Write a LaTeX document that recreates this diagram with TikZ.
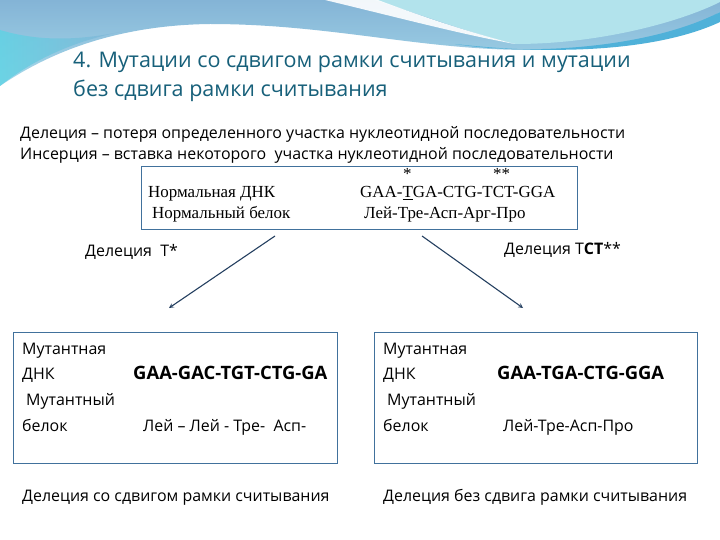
\documentclass[tikz,border=0pt]{standalone}
\usepackage{fontspec}
\setmainfont{Open Sans}
\newfontfamily\dnaserif{Liberation Serif}
\usepackage{tikz}
\usetikzlibrary{calc}

\definecolor{titleteal}{HTML}{17607A}
\definecolor{boxline}{HTML}{41719C}
\definecolor{arrowblue}{HTML}{243F60}
\definecolor{wavetop}{HTML}{84B4D6}
\definecolor{wavelow}{HTML}{A6D9EA}
\definecolor{waveturq}{HTML}{5ED3E4}
\definecolor{wavepale}{HTML}{B2E3EC}
\definecolor{wavedeep}{HTML}{4FB1D9}

\begin{document}
\begin{tikzpicture}[x=1bp,y=-1bp,>=stealth,
			txt/.style={anchor=base west,inner sep=0pt,font=\fontsize{16}{19}\selectfont},
			seq/.style={anchor=base west,inner sep=0pt,font=\fontsize{18.5}{21}\selectfont\bfseries},
			serif/.style={anchor=base west,inner sep=0pt,font=\dnaserif\fontsize{17}{20}\selectfont},
			title/.style={anchor=base west,inner sep=0pt,text=titleteal,font=\fontsize{21.6}{26}\selectfont},
			databox/.style={draw=boxline,line width=0.9pt,fill=white,inner sep=0pt},
			link/.style={->,draw=arrowblue,line width=1.1pt},
			]
			\useasboundingbox (0,0) rectangle (720,540);
			\fill[white] (0,0) rectangle (720,540);
			
			% волна сверху
			\shade[top color=wavetop,bottom color=wavelow]
			(0,0) -- (720,0) -- (720,12)
			.. controls (690,30) and (620,50) .. (530,50)
			.. controls (420,50) and (330,24) .. (210,24)
			.. controls (130,25) and (60,45) .. (0,86) -- cycle;
			\shade[left color=waveturq,right color=wavetop,opacity=0.8]
			(0,30) .. controls (40,42) and (80,40) .. (120,32)
			.. controls (70,42) and (30,62) .. (0,86) -- cycle;
			\fill[wavepale] (375,0) .. controls (430,18) and (480,36) .. (515,44)
			.. controls (600,44) and (680,22) .. (720,2) -- (720,0) -- cycle;
			\fill[white,opacity=0.9] (325,0) .. controls (400,18) and (460,34) .. (515,44)
			.. controls (460,30) and (410,12) .. (378,0) -- cycle;
			\fill[wavedeep] (455,44) .. controls (530,56) and (650,48) .. (720,12)
			-- (720,22) .. controls (660,50) and (560,56) .. (455,44) -- cycle;
			
			% заголовок
			\node[title] (title1) at (73,68) {4. Мутации со сдвигом рамки считывания и мутации};
			\node[title] (title2) at (73,97) {без сдвига рамки считывания};
			
			% определения
			\node[txt] (deldef) at (20,139) {Делеция – потеря определенного участка нуклеотидной последовательности};
			\node[txt] (insdef) at (20,160) {Инсерция – вставка некоторого\ \ участка нуклеотидной последовательности};
			
			% нормальная ДНК
			\node[databox,minimum width=437,minimum height=64] (normbox) at (359.5,198) {};
			\node[serif] (star1) at (403,180) {*};
			\node[serif] (star2) at (493,180) {**};
			\node[serif] (normdna) at (148,198) {Нормальная ДНК};
			\node[serif] (normseq) at (360,198) {GAA-\underline{T}GA-CTG-TCT-GGA};
			\node[serif] (normprot) at (152,219) {Нормальный белок};
			\node[serif] (normaa) at (364,219) {Лей-Тре-Асп-Арг-Про};
			
			% делеции
			\node[txt] (dellab1) at (85,257) {Делеция\ \ Т*};
			\node[txt] (dellab2) at (504,255) {Делеция Т\textbf{СТ}**};
			\coordinate (l1) at (275,236);
			\coordinate (l2) at (169,308);
			\coordinate (r1) at (422,236);
			\coordinate (r2) at (523,308);
			\draw[link] (l1) -- (l2);
			\draw[link] (r1) -- (r2);
			
			% мутантные блоки
			\node[databox,minimum width=325,minimum height=132] (mutbox1) at (175.5,398) {};
			\node[databox,minimum width=324,minimum height=132] (mutbox2) at (536,398) {};
			
			\node[txt] (m1a) at (22,354) {Мутантная};
			\node[txt] (m1b) at (22,379) {ДНК};
			\node[txt] (m1c) at (26,405) {Мутантный};
			\node[txt] (m1d) at (22,431) {белок};
			\node[seq] (m1seq) at (133,379) {GAA-GAC-TGT-CTG-GA};
			\node[txt] (m1aa) at (143,431) {Лей – Лей - Тре-\ \ Асп-};
			
			\node[txt] (m2a) at (383,354) {Мутантная};
			\node[txt] (m2b) at (383,379) {ДНК};
			\node[txt] (m2c) at (387,405) {Мутантный};
			\node[txt] (m2d) at (383,431) {белок};
			\node[seq] (m2seq) at (497,379) {GAA-TGA-CTG-GGA};
			\node[txt] (m2aa) at (503,431) {Лей-Тре-Асп-Про};
			
			% итоги
			\node[txt] (res1) at (22,501) {Делеция со сдвигом рамки считывания};
			\node[txt] (res2) at (383,501) {Делеция без сдвига рамки считывания};
		\end{tikzpicture}
\end{document}
